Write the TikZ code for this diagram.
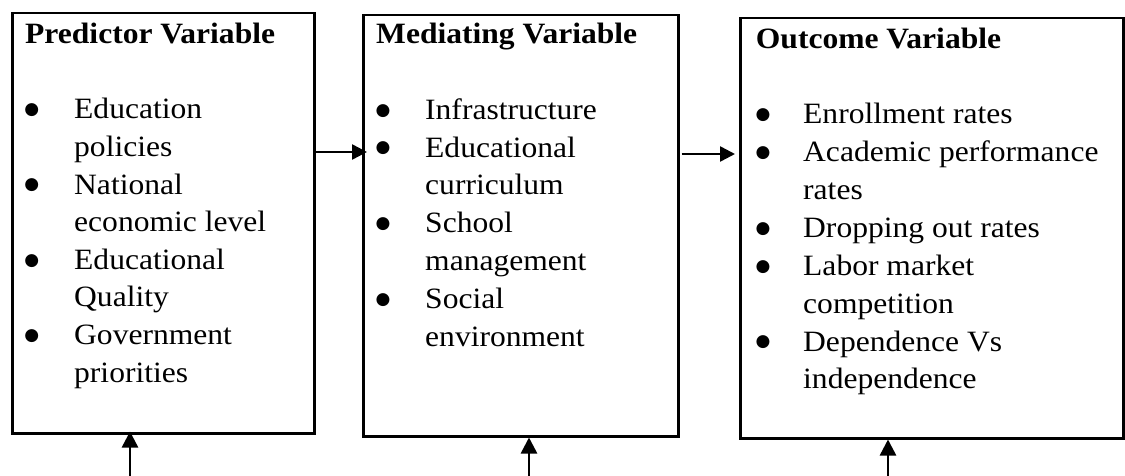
\documentclass[tikz,border=0pt]{standalone}
\usepackage{fontspec}
\setmainfont[FakeStretch=1.07]{Liberation Serif}
\newfontfamily\bulfont{DejaVu Sans}
\usetikzlibrary{arrows.meta}
\begin{document}
\begin{tikzpicture}[x=1pt,y=-1pt,
  box/.style={draw, line width=2.5pt, inner sep=0pt, anchor=north west},
  ttl/.style={anchor=base west, inner sep=0pt, font=\fontsize{29.5}{37.6}\selectfont\bfseries},
  txt/.style={anchor=base west, inner sep=0pt, font=\fontsize{29.5}{37.6}\selectfont},
  bul/.style={anchor=center, inner sep=0pt, font=\fontsize{17}{17}\bulfont},
  arr/.style={line width=2.5pt, -{Triangle[length=16pt,width=16pt]}},
  harr/.style={line width=2.5pt, -{Triangle[length=15pt,width=15pt]}}]
\useasboundingbox (0,0) rectangle (1125,476);
% boxes
\node[box, minimum width=302pt, minimum height=420pt] (pred) at (11,12) {};
\node[box, minimum width=315pt, minimum height=421pt] (med) at (362,14) {};
\node[box, minimum width=383pt, minimum height=420pt] (out) at (739,17) {};
% titles
\node[ttl] (t1) at (25,43.3) {Predictor Variable};
\node[ttl] (t2) at (376,43.3) {Mediating Variable};
\node[ttl] (t3) at (755.7,48.3) {Outcome Variable};
% box 1 list
\foreach \s [count=\i from 0] in {Education,policies,National,economic level,Educational,Quality,Government,priorities}
  \node[txt] (pa\i) at (74,118.8+37.6*\i) {\s};
\foreach \i in {0,2,4,6}
  \node[bul] (pb\i) at (31.7,110.3+37.6*\i) {●};
% box 2 list
\foreach \s [count=\i from 0] in {Infrastructure,Educational,curriculum,School,management,Social,environment}
  \node[txt] (ma\i) at (425,119.3+37.8*\i) {\s};
\foreach \i in {0,1,3,5}
  \node[bul] (mb\i) at (383,110.8+37.8*\i) {●};
% box 3 list
\foreach \s [count=\i from 0] in {Enrollment rates,Academic performance,rates,Dropping out rates,Labor market,competition,Dependence Vs,independence}
  \node[txt] (oa\i) at (803,123.6+37.9*\i) {\s};
\foreach \i in {0,1,3,4,6}
  \node[bul] (ob\i) at (763,115.1+37.9*\i) {●};
% horizontal connectors
\draw[harr, shorten <=-2pt, shorten >=-5pt] (pred.east |- 0,152) -- (med.west |- 0,152);
\draw[harr, shorten <=2pt, shorten >=4pt] (med.east |- 0,154) -- (out.west |- 0,154);
% vertical connectors
\coordinate (u1) at (130,476);
\coordinate (u2) at (529,476);
\coordinate (u3) at (888,476);
\draw[arr, shorten >=-3pt] (u1) -- (pred.south -| u1);
\draw[arr] (u2) -- (med.south -| u2);
\draw[arr] (u3) -- (out.south -| u3);
\end{tikzpicture}
\end{document}
